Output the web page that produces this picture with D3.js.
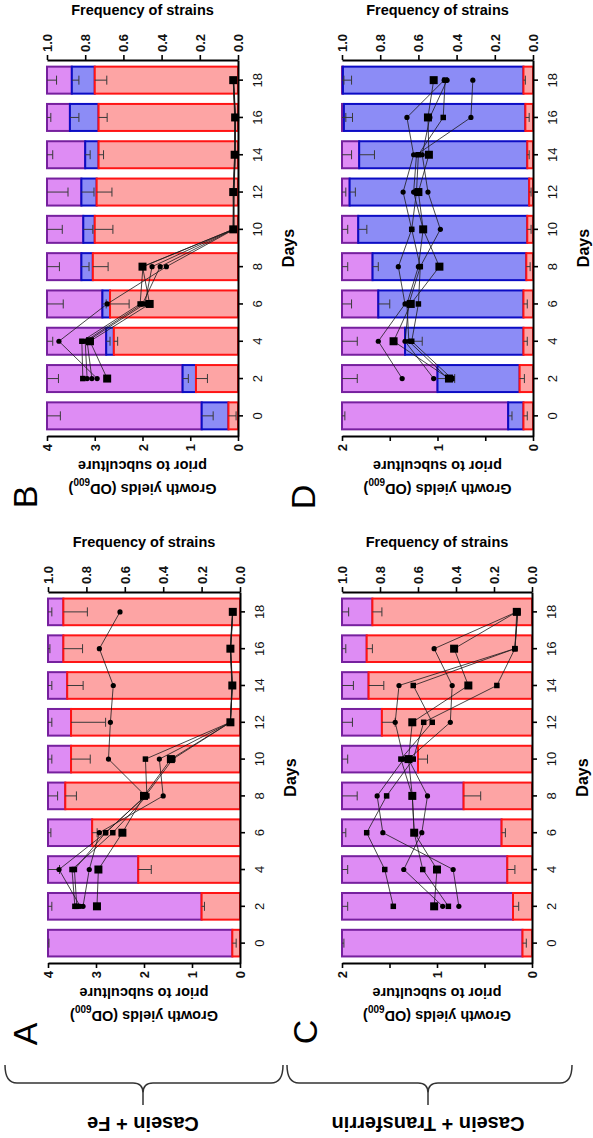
<!DOCTYPE html>
<html>
<head>
<meta charset="utf-8">
<script src="https://cdn.jsdelivr.net/npm/d3@7"></script>
<style>
  body { margin: 0; background: #fff; }
  svg text { font-family: "Liberation Sans", Arial, sans-serif; }
</style>
</head>
<body>
<div id="chart"></div>
<script>
// ---- data ----
const days = [0, 2, 4, 6, 8, 10, 12, 14, 16, 18];
const growthDays = [2, 4, 6, 8, 10, 12, 14, 16, 18];

// A: Casein + Fe (purple / red only)
const aRed    = [0.04, 0.20, 0.53, 0.77, 0.91, 0.88, 0.88, 0.90, 0.92, 0.92];
const aBlue   = [0, 0, 0, 0, 0, 0, 0, 0, 0, 0];
const aPurple = [0.96, 0.80, 0.47, 0.23, 0.09, 0.12, 0.12, 0.10, 0.08, 0.08];
const aRedErr    = [0.02, 0.015, 0.068, 0.026, 0.058, 0.10, 0.18, 0.083, 0.10, 0.125];
const aBlueErr   = [0, 0, 0, 0, 0, 0, 0, 0, 0, 0];
const aPurpleErr = [0.005, 0.02, 0.06, 0.015, 0.05, 0.02, 0.02, 0.02, 0.01, 0.02];
const aGrowth = [
  [3.33, 3.77, 2.80, 1.97, 2.74, 2.70, 2.64, 2.93, 2.50],
  [2.98, 2.95, 2.45, 2.00, 1.44, 0.20, 0.16, 0.20, 0.15],
  [3.44, 3.50, 2.65, 1.94, 1.97, 0.20, 0.16, 0.20, 0.15],
  [3.27, 3.14, 2.93, 1.60, 1.68, 0.20, 0.16, 0.19, 0.15],
  [3.40, 3.45, 2.80, 1.97, 1.40, 0.20, 0.17, 0.20, 0.16]
];
const aMarks = ["circle", "bigsquare", "square", "circle", "square"];

// B: Casein + Fe (purple / blue / red)
const bRed    = [0.05, 0.22, 0.65, 0.67, 0.76, 0.75, 0.74, 0.73, 0.73, 0.75];
const bBlue   = [0.14, 0.07, 0.04, 0.04, 0.06, 0.06, 0.08, 0.07, 0.15, 0.12];
const bPurple = [0.81, 0.71, 0.31, 0.29, 0.18, 0.19, 0.18, 0.20, 0.12, 0.13];
const bRedErr    = [0.04, 0.06, 0.02, 0.10, 0.08, 0.095, 0.08, 0.026, 0.045, 0.063];
const bBlueErr   = [0.06, 0.03, 0.02, 0.02, 0.04, 0.05, 0.066, 0.026, 0.047, 0.037];
const bPurpleErr = [0.07, 0.06, 0.03, 0.085, 0.065, 0.08, 0.11, 0.03, 0.02, 0.05];
const bGrowth = [
  [2.74, 3.10, 1.85, 2.00, 0.10, 0.10, 0.07, 0.06, 0.10],
  [2.95, 3.75, 2.74, 1.50, 0.08, 0.08, 0.06, 0.05, 0.09],
  [3.25, 3.27, 2.05, 1.99, 0.10, 0.09, 0.06, 0.06, 0.10],
  [3.16, 3.20, 2.00, 1.63, 0.09, 0.10, 0.07, 0.06, 0.09],
  [3.06, 3.16, 1.95, 1.80, 0.10, 0.09, 0.06, 0.07, 0.10]
];
const bMarks = ["bigsquare", "circle", "square", "circle", "circle"];

// C: Casein + Transferrin (purple / red only)
const cRed    = [0.05, 0.10, 0.13, 0.16, 0.36, 0.60, 0.79, 0.86, 0.87, 0.84];
const cBlue   = [0, 0, 0, 0, 0, 0, 0, 0, 0, 0];
const cPurple = [0.95, 0.90, 0.87, 0.84, 0.64, 0.40, 0.21, 0.14, 0.13, 0.16];
const cRedErr    = [0.02, 0.03, 0.04, 0.02, 0.09, 0.05, 0.07, 0.08, 0.03, 0.05];
const cBlueErr   = [0, 0, 0, 0, 0, 0, 0, 0, 0, 0];
const cPurpleErr = [0.01, 0.03, 0.03, 0.02, 0.08, 0.03, 0.055, 0.06, 0.02, 0.035];
const cGrowth = [
  [1.03, 1.00, 1.24, 1.26, 1.30, 1.26, 0.67, 0.82, 0.16],
  [0.77, 0.83, 1.57, 1.63, 1.35, 1.44, 1.40, 0.18, 0.16],
  [1.46, 1.55, 1.74, 1.53, 1.25, 1.14, 0.37, 0.18, 0.15],
  [0.94, 1.35, 1.16, 1.10, 1.30, 0.86, 0.84, 1.03, 0.16],
  [0.88, 1.15, 1.24, 1.26, 1.38, 1.05, 1.25, 0.18, 0.15]
];
const cMarks = ["bigsquare", "circle", "square", "circle", "square"];

// D: Casein + Transferrin (purple / blue / red)
const dRed    = [0.05, 0.07, 0.05, 0.05, 0.035, 0.03, 0.02, 0.03, 0.04, 0.05];
const dBlue   = [0.08, 0.43, 0.62, 0.76, 0.805, 0.885, 0.94, 0.88, 0.95, 0.945];
const dPurple = [0.87, 0.50, 0.33, 0.19, 0.16, 0.085, 0.04, 0.09, 0.01, 0.005];
const dRedErr    = [0.02, 0.025, 0.02, 0.02, 0.02, 0.02, 0.01, 0.01, 0.02, 0.01];
const dBlueErr   = [0.02, 0.09, 0.09, 0.06, 0.03, 0.045, 0.03, 0.08, 0.045, 0.045];
const dPurpleErr = [0.015, 0.08, 0.08, 0.05, 0.03, 0.03, 0.02, 0.05, 0.02, 0.01];
const dGrowth = [
  [0.88, 1.46, 1.28, 0.98, 1.15, 1.20, 1.09, 1.10, 1.04],
  [1.37, 1.62, 1.34, 1.41, 1.27, 1.36, 1.25, 1.32, 0.93],
  [1.04, 1.34, 1.30, 1.18, 0.97, 1.10, 1.16, 1.08, 0.90],
  [0.85, 1.27, 1.20, 1.18, 1.27, 1.22, 1.20, 0.94, 0.92],
  [0.89, 1.30, 1.32, 1.20, 1.15, 1.25, 1.22, 0.65, 0.63]
];
const dMarks = ["bigsquare", "circle", "circle", "square", "circle"];

const freqTicks = [1, 0.8, 0.6, 0.4, 0.2, 0];

// ---- drawing ----
const W = 593, H = 1138;
const svg = d3.select("#chart").append("svg")
  .attr("width", W)
  .attr("height", H);

const colors = {
  red:    { fill: "#fda4a4", stroke: "#ff1414" },
  blue:   { fill: "#8c8cf6", stroke: "#0c0cc4" },
  purple: { fill: "#de8cf4", stroke: "#76209e" }
};

function drawPanel(p) {
  const g = svg.append("g");

  const yDay = d3.scaleBand()
    .domain(days.slice().reverse())
    .range([p.top, p.bottom])
    .paddingInner(0.276)
    .paddingOuter(0.178);
  const xFreq = d3.scaleLinear().domain([1, 0]).range([p.left, p.right]);
  const xGrowth = d3.scaleLinear().domain([p.gMax, 0]).range([p.left, p.right]);
  const bw = yDay.bandwidth();

  const rows = days.map((d, i) => ({ day: d, red: p.red[i], blue: p.blue[i], purple: p.purple[i] }));
  const keys = ["red", "blue", "purple"];
  const errs = { red: p.redErr, blue: p.blueErr, purple: p.purpleErr };
  const stacked = d3.stack().keys(keys)(rows);

  // bars: purple first so the red edges sit on top
  [2, 1, 0].forEach(k => {
    const key = keys[k];
    g.append("g")
      .selectAll("rect")
      .data(stacked[k].filter(d => d[1] - d[0] > 0))
      .join("rect")
      .attr("x", d => xFreq(Math.min(d[1], 1)))
      .attr("width", d => xFreq(d[0]) - xFreq(Math.min(d[1], 1)))
      .attr("y", d => yDay(d.data.day))
      .attr("height", bw)
      .attr("fill", colors[key].fill)
      .attr("stroke", colors[key].stroke)
      .attr("stroke-width", 2);
  });

  // error bars, drawn from each stack top towards zero
  keys.forEach((key, k) => {
    stacked[k].forEach((d, i) => {
      const e = errs[key][i];
      if (!(d[1] - d[0] > 0) || !e) return;
      const top = Math.min(d[1], 1);
      const cy = yDay(d.data.day) + bw / 2;
      const x1 = xFreq(top), x2 = xFreq(top - e);
      g.append("line").attr("x1", x1).attr("x2", x2).attr("y1", cy).attr("y2", cy)
        .attr("stroke", "#3a3a3a").attr("stroke-width", 1);
      g.append("line").attr("x1", x2).attr("x2", x2).attr("y1", cy - 4.5).attr("y2", cy + 4.5)
        .attr("stroke", "#3a3a3a").attr("stroke-width", 1);
    });
  });

  // growth lines
  const line = d3.line()
    .x(d => xGrowth(d.v))
    .y(d => yDay(d.day) + bw / 2);

  p.growth.forEach(s => {
    const pts = growthDays.map((day, i) => ({ day: day, v: s[i] }));
    g.append("path")
      .datum(pts)
      .attr("d", line)
      .attr("fill", "none")
      .attr("stroke", "#1a1a1a")
      .attr("stroke-width", 0.8);
  });

  p.growth.forEach((s, si) => {
    const shape = p.marks[si];
    const pts = growthDays.map((day, i) => ({ day: day, v: s[i] }));
    const sel = g.append("g").selectAll(".pt").data(pts);
    if (shape === "circle") {
      sel.join("circle")
        .attr("cx", d => xGrowth(d.v))
        .attr("cy", d => yDay(d.day) + bw / 2)
        .attr("r", 2.6)
        .attr("fill", "#000");
    } else {
      const sz = shape === "bigsquare" ? 8 : 5.5;
      sel.join("rect")
        .attr("x", d => xGrowth(d.v) - sz / 2)
        .attr("y", d => yDay(d.day) + bw / 2 - sz / 2)
        .attr("width", sz)
        .attr("height", sz)
        .attr("fill", "#000");
    }
  });

  // axes
  const freqAxis = g.append("g")
    .attr("transform", `translate(0,${p.top})`)
    .call(d3.axisTop(xFreq).tickValues(freqTicks).tickFormat(d3.format(".1f")).tickSize(5).tickSizeOuter(0));
  freqAxis.selectAll("text")
    .attr("transform", "rotate(-90)")
    .attr("text-anchor", "start")
    .attr("x", 8).attr("y", 0).attr("dy", "0.35em");

  const growthAxis = g.append("g")
    .attr("transform", `translate(0,${p.bottom})`)
    .call(d3.axisBottom(xGrowth).tickValues(p.gTicks)
      .tickFormat(d => Number.isInteger(d) ? d : "").tickSize(5).tickSizeOuter(0));
  growthAxis.selectAll("text")
    .attr("transform", "rotate(-90)")
    .attr("text-anchor", "end")
    .attr("x", -8).attr("y", 0).attr("dy", "0.35em");

  const dayAxis = g.append("g")
    .attr("transform", `translate(${p.right},0)`)
    .call(d3.axisRight(yDay).tickSize(5).tickSizeOuter(0));
  dayAxis.selectAll("text")
    .attr("transform", "rotate(-90)")
    .attr("text-anchor", "middle")
    .attr("x", 0).attr("y", 19).attr("dy", "0.35em");

  [freqAxis, growthAxis, dayAxis].forEach(a => {
    a.select(".domain").attr("stroke", "#000").attr("stroke-width", 2);
    a.selectAll(".tick line").attr("stroke", "#000").attr("stroke-width", 1.6);
    a.selectAll("text").attr("font-size", 13).attr("font-weight", "bold").attr("fill", "#111");
  });
  dayAxis.selectAll("text").attr("font-weight", "normal").attr("font-size", 13);

  // titles
  const cx = (p.left + p.right) / 2;
  g.append("text")
    .attr("x", cx).attr("y", p.top - 45)
    .attr("text-anchor", "middle")
    .attr("font-size", 14.5).attr("font-weight", "bold")
    .text("Frequency of strains");

  const gt = g.append("text")
    .attr("transform", `translate(${cx},${p.bottom + 53}) rotate(180)`)
    .attr("text-anchor", "middle").attr("dy", "0.35em")
    .attr("font-size", 14.5).attr("font-weight", "bold");
  gt.append("tspan").text("Growth yields (OD");
  gt.append("tspan").attr("baseline-shift", "sub").attr("font-size", 10).text("600");
  gt.append("tspan").text(")");
  g.append("text")
    .attr("transform", `translate(${cx},${p.bottom + 30}) rotate(180)`)
    .attr("text-anchor", "middle").attr("dy", "0.35em")
    .attr("font-size", 14.5).attr("font-weight", "bold")
    .text("prior to subculture");

  g.append("text")
    .attr("transform", `translate(${p.right + 50},${(p.top + p.bottom) / 2}) rotate(-90)`)
    .attr("text-anchor", "middle").attr("dy", "0.35em")
    .attr("font-size", 16).attr("font-weight", "bold")
    .text("Days");

  g.append("text")
    .attr("transform", `translate(${p.letterX},${p.letterY}) rotate(-90)`)
    .attr("text-anchor", "middle").attr("dy", "0.36em")
    .attr("font-size", 34)
    .text(p.letter);
}

drawPanel({ letter: "B", letterX: 25, letterY: 497, left: 47, right: 238, top: 60, bottom: 436,
  gMax: 4, gTicks: [0, 1, 2, 3, 4],
  red: bRed, blue: bBlue, purple: bPurple, redErr: bRedErr, blueErr: bBlueErr, purpleErr: bPurpleErr,
  growth: bGrowth, marks: bMarks });
drawPanel({ letter: "A", letterX: 25, letterY: 1034, left: 48, right: 240, top: 592, bottom: 963,
  gMax: 4, gTicks: [0, 1, 2, 3, 4],
  red: aRed, blue: aBlue, purple: aPurple, redErr: aRedErr, blueErr: aBlueErr, purpleErr: aPurpleErr,
  growth: aGrowth, marks: aMarks });
drawPanel({ letter: "D", letterX: 303, letterY: 497, left: 342, right: 533, top: 60, bottom: 436,
  gMax: 2, gTicks: [0, 0.5, 1, 1.5, 2],
  red: dRed, blue: dBlue, purple: dPurple, redErr: dRedErr, blueErr: dBlueErr, purpleErr: dPurpleErr,
  growth: dGrowth, marks: dMarks });
drawPanel({ letter: "C", letterX: 305, letterY: 1032, left: 342, right: 532, top: 592, bottom: 963,
  gMax: 2, gTicks: [0, 0.5, 1, 1.5, 2],
  red: cRed, blue: cBlue, purple: cPurple, redErr: cRedErr, blueErr: cBlueErr, purpleErr: cPurpleErr,
  growth: cGrowth, marks: cMarks });

// group braces and condition labels
const groups = [
  { name: "Casein + Fe", a: 5, b: 283, c: 143 },
  { name: "Casein + Transferrin", a: 287, b: 572, c: 428 }
];
const y0 = 1065, y1 = 1083, y2 = 1105;
groups.forEach(gr => {
  const path = d3.path();
  path.moveTo(gr.a, y0);
  path.quadraticCurveTo(gr.a, y1, gr.a + 12, y1);
  path.lineTo(gr.c - 10, y1);
  path.quadraticCurveTo(gr.c, y1, gr.c, y1 + 10);
  path.lineTo(gr.c, y2);
  path.moveTo(gr.c, y1 + 10);
  path.quadraticCurveTo(gr.c, y1, gr.c + 10, y1);
  path.lineTo(gr.b - 12, y1);
  path.quadraticCurveTo(gr.b, y1, gr.b, y0);
  svg.append("path")
    .attr("d", path.toString())
    .attr("fill", "none")
    .attr("stroke", "#333")
    .attr("stroke-width", 1.5);
  svg.append("text")
    .attr("transform", `translate(${gr.c},1124) rotate(180)`)
    .attr("text-anchor", "middle").attr("dy", "0.35em")
    .attr("font-size", 20).attr("font-weight", "bold")
    .text(gr.name);
});
</script>
</body>
</html>
